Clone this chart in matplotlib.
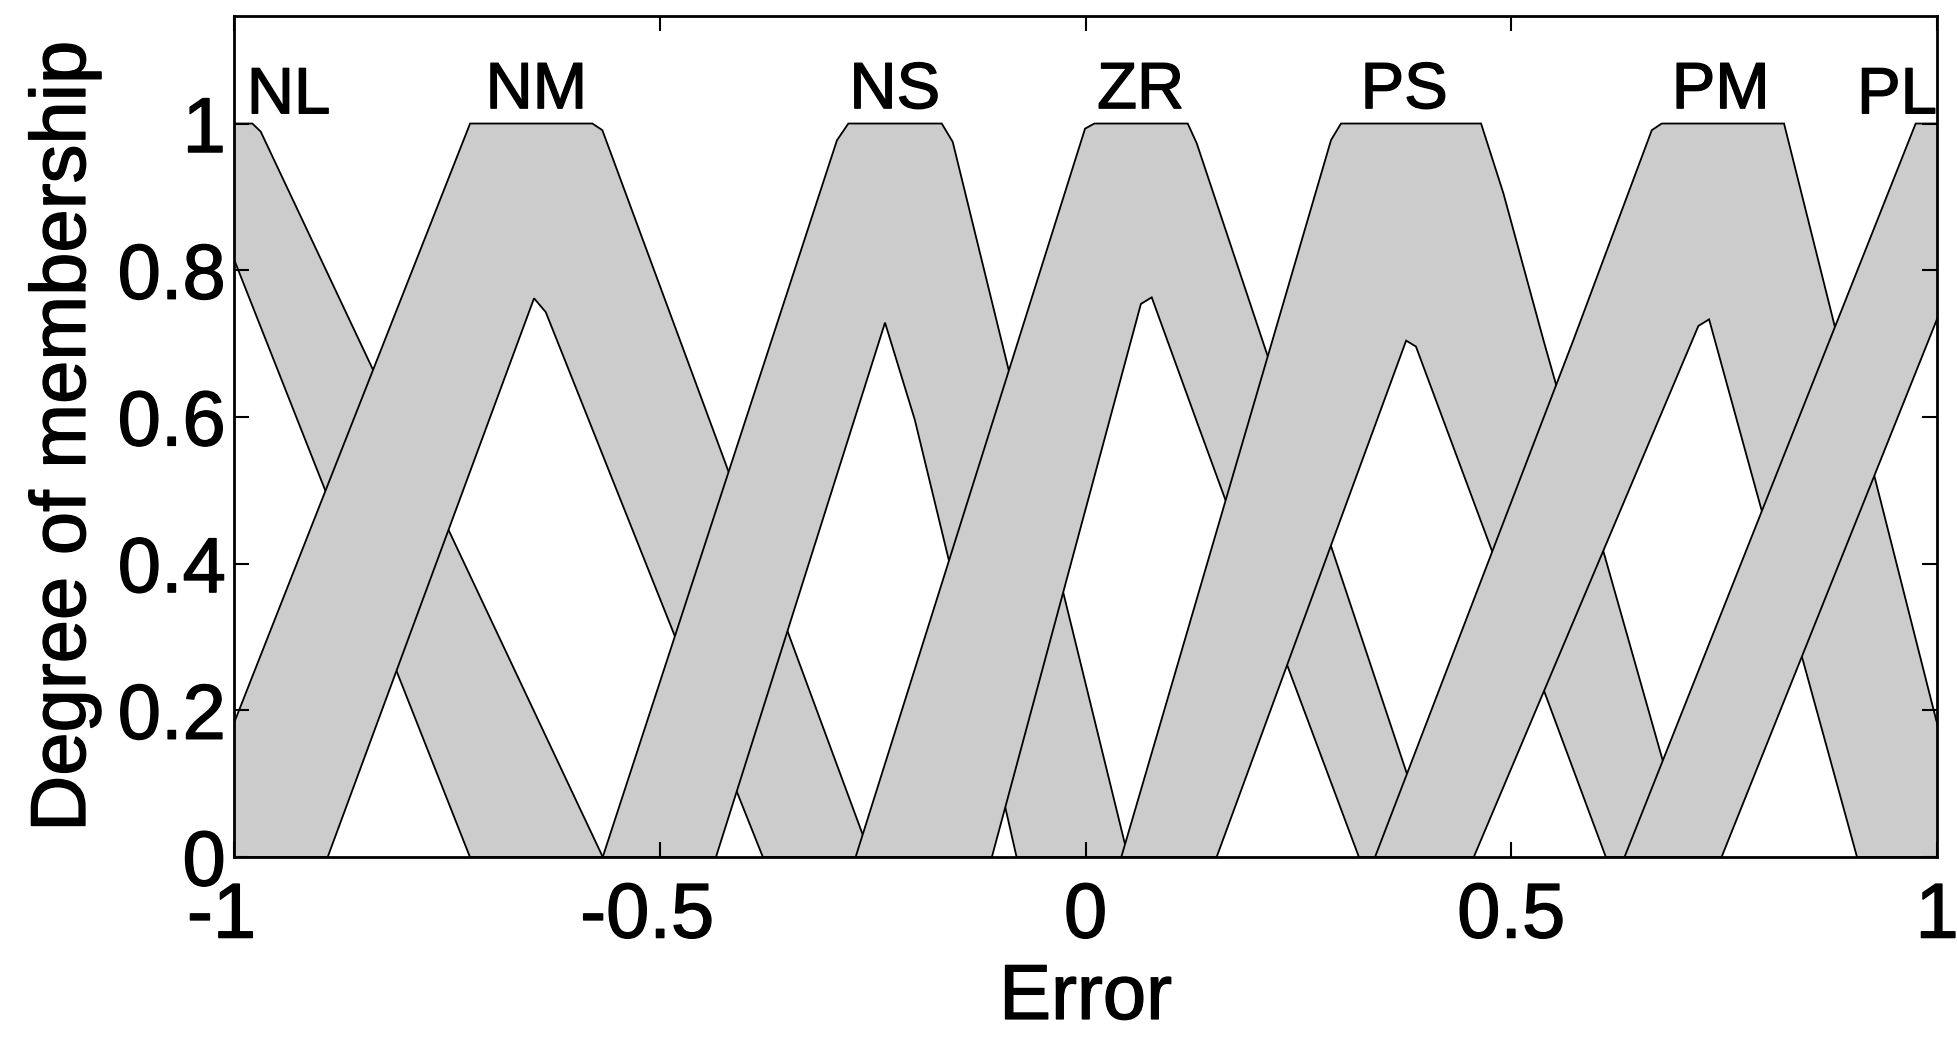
import numpy as np
import matplotlib
matplotlib.use('Agg')
import matplotlib.pyplot as plt
import matplotlib.patheffects as pe
from matplotlib.transforms import ScaledTranslation

plt.rcParams['font.family'] = ['Liberation Sans', 'DejaVu Sans']

# footprints of uncertainty: upper MF (left to right) and lower MF (left to right)
nl_umf = [(-1.2, 1.0), (-0.9785, 1.0), (-0.9687, 0.989), (-0.567, 0.0)]
nl_lmf = [(-1.063, 1.0), (-0.723, 0.0)]

nm_umf = [(-1.062, 0.0), (-0.7228, 1.0), (-0.5792, 1.0), (-0.5675, 0.991), (-0.252, 0.0)]
nm_lmf = [(-0.890, 0.0), (-0.6477, 0.7617), (-0.634, 0.743), (-0.379, 0.0)]

ns_umf = [(-0.567, 0.0), (-0.292, 0.977), (-0.2786, 1.0), (-0.1689, 1.0), (-0.156, 0.975), (0.05, 0.0)]
ns_lmf = [(-0.434, 0.0), (-0.2355, 0.7285), (-0.2005, 0.596), (-0.1577, 0.391), (-0.081, 0.0)]

zr_umf = [(-0.27, 0.0), (-0.0006, 0.993), (0.0103, 1.0), (0.120, 1.0), (0.1306, 0.973), (0.41, 0.0)]
zr_lmf = [(-0.110, 0.0), (0.065, 0.754), (0.0777, 0.763), (0.1299, 0.596), (0.1658, 0.482), (0.321, 0.0)]

ps_umf = [(0.042, 0.0), (0.2883, 0.9775), (0.300, 1.0), (0.4645, 1.0), (0.4907, 0.905), (0.5377, 0.705), (0.71, 0.0)]
ps_lmf = [(0.154, 0.0), (0.3765, 0.704), (0.388, 0.696), (0.611, 0.0)]

pm_umf = [(0.34, 0.0), (0.573, 0.705), (0.665, 0.991), (0.6767, 1.0), (0.8203, 1.0), (0.880, 0.723), (0.9267, 0.518), (0.995, 0.205), (1.04, 0.0)]
pm_lmf = [(0.456, 0.0), (0.7197, 0.724), (0.7323, 0.733), (0.906, 0.0)]

pl_umf = [(0.633, 0.0), (0.9749, 1.0), (1.2, 1.0)]
pl_lmf = [(0.747, 0.0), (1.092, 1.0)]

names = ['NL', 'NM', 'NS', 'ZR', 'PS', 'PM', 'PL']
label_x = [-0.936, -0.645, -0.224, 0.0647, 0.3743, 0.746, 0.953]
label_y = [1.014, 1.021, 1.021, 1.021, 1.021, 1.021, 1.014]

x_ticks = [-1, -0.5, 0, 0.5, 1]
x_ticklabels = ['-1', '-0.5', '0', '0.5', '1']
y_ticks = [0, 0.2, 0.4, 0.6, 0.8, 1]
y_ticklabels = ['0', '0.2', '0.4', '0.6', '0.8', '1']

umfs = [nl_umf, nm_umf, ns_umf, zr_umf, ps_umf, pm_umf, pl_umf]
lmfs = [nl_lmf, nm_lmf, ns_lmf, zr_lmf, ps_lmf, pm_lmf, pl_lmf]

heavy = [pe.withStroke(linewidth=1.0, foreground='black')]


def fou_polygon(umf, lmf):
    pts = list(umf) + list(reversed(lmf))
    xs = [p[0] for p in pts]
    ys = [p[1] for p in pts]
    return xs, ys


def main():
    fig = plt.figure(figsize=(19.57, 10.40), dpi=100)
    ax = fig.add_axes([0.1196, 0.176, 0.9898 - 0.1196, 0.9846 - 0.176])

    for umf, lmf in zip(umfs, lmfs):
        xs, ys = fou_polygon(umf, lmf)
        ax.fill(xs, ys, facecolor='#cccccc', edgecolor='black', linewidth=1.3)

    for name, x, y in zip(names, label_x, label_y):
        ax.text(x, y, name, ha='center', va='baseline', fontsize=47,
                path_effects=heavy)

    ax.set_xlim(-1, 1)
    ax.set_ylim(0, 1.1466)
    ax.set_xticks(x_ticks)
    ax.set_xticklabels(x_ticklabels)
    ax.set_yticks(y_ticks)
    ax.set_yticklabels(y_ticklabels)
    ax.tick_params(direction='in', length=11, width=1.5, top=True, right=True,
                   labelsize=56)
    ax.tick_params(axis='x', pad=17)
    ax.tick_params(axis='y', pad=6)
    for s in ax.spines.values():
        s.set_linewidth(2)

    # matlab style: minus sign hangs left of the centred number
    for lab in ax.get_xticklabels() + ax.get_yticklabels():
        lab.set_path_effects(heavy)
    for lab in ax.get_xticklabels():
        if lab.get_text().startswith('-'):
            lab.set_transform(lab.get_transform() +
                              ScaledTranslation(-9 / 72, 0, fig.dpi_scale_trans))

    ax.set_xlabel('Error', fontsize=56, labelpad=6, path_effects=heavy)
    ax.set_ylabel('Degree of membership', fontsize=56, labelpad=12,
                  path_effects=heavy)

    fig.savefig('out.png', dpi=100)


if __name__ == '__main__':
    main()
